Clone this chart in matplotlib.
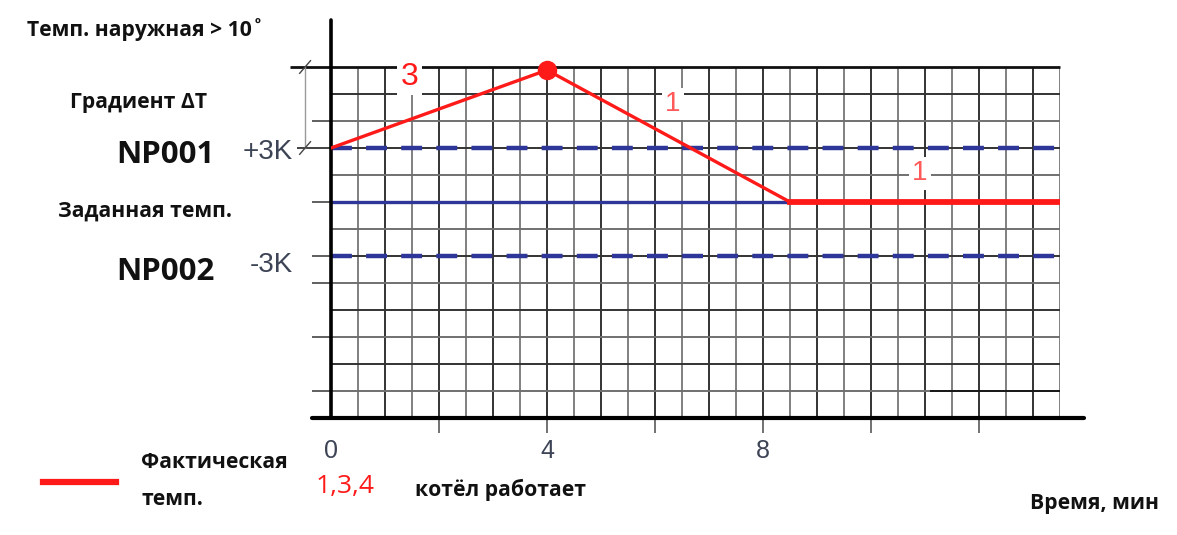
import numpy as np
import matplotlib
matplotlib.use("Agg")
import matplotlib.pyplot as plt
from matplotlib.lines import Line2D

W, H = 1177, 535

# данные (минуты / Кельвины)
actual_t = [0, 4, 8.5, 13.5]
actual_v = [3, 7.33, 0, 0]
peak_t, peak_v = 4, 7.33
setpoint = 0
np001 = 3
np002 = -3
setpoint_end = 8.5
band_end = 13.4
tick_pos = [0, 2, 4, 6, 8, 10, 12]
tick_lbl = ["0", "", "4", "", "8", "", ""]

RED = "#ff1a1a"
RED_LIGHT = "#ff5a5a"
BLUE = "#2f3699"
GREY_TXT = "#3d4455"
SANS = ["Open Sans", "DejaVu Sans"]
ARIAL = ["Liberation Sans", "DejaVu Sans"]


def px(x, y):
    return x / W, 1 - y / H


plt.rcParams['font.family'] = SANS

fig = plt.figure(figsize=(W / 100, H / 100), dpi=100)
ax = fig.add_axes([331 / W, 1 - 418 / H, (1060 - 331) / W, (418 - 67) / H])
ax.set_xlim(0, 13.5)
ax.set_ylim(-12, 7.5)
for s in ax.spines.values():
    s.set_visible(False)

# сетка
xs = np.arange(0, 13.51, 0.5)
ys = np.arange(-12, 7.51, 1.5)
vcol = ["#333333" if i % 2 == 0 else "#808080" for i in range(len(xs))]
hcol = ["#333333" if i % 2 == 0 else "#707070" for i in range(len(ys))]
ax.vlines(xs, -12, 7.5, colors=vcol, lw=1.4, zorder=1)
ax.hlines(ys, 0, 13.5, colors=hcol, lw=1.4, zorder=1)
# продолжение линий влево от оси
ax.hlines([-10.5, -7.5, -4.5, -3, 0, 4.5], -0.35, 0, colors="#444444", lw=1.2, clip_on=False)
ax.hlines([7.5], -0.76, 13.5, colors="#111111", lw=2.0, clip_on=False, zorder=2)
ax.hlines([3], -0.63, 0, colors="#222222", lw=1.2, clip_on=False)
ax.hlines([-10.5], 11.1, 13.5, colors="#111111", lw=1.3, zorder=2)
# размерная линия градиента
ax.plot([-0.48, -0.48], [3, 7.5], color="#999999", lw=1.0, clip_on=False)
for yy in (3, 7.5):
    ax.plot([-0.58, -0.38], [yy - 0.35, yy + 0.35], color="#444444", lw=1.0, clip_on=False)

# оси
ax.plot([0, 0], [-12, 10.1], color="black", lw=2.6, clip_on=False, solid_capstyle="round", zorder=4)
ax.plot([-0.35, 13.95], [-12, -12], color="black", lw=3.0, clip_on=False, solid_capstyle="round", zorder=4)

ax.set_xticks(tick_pos, tick_lbl)
ax.set_yticks([])
ax.tick_params(axis="x", length=11, width=1.3, color="#666666", pad=4,
               labelsize=18, labelcolor=GREY_TXT)
for t in ax.get_xticklabels():
    t.set_family(ARIAL)
ax.xaxis.get_major_ticks()[0].tick1line.set_visible(False)

# заданная температура и границы
ax.plot([0, setpoint_end], [setpoint, setpoint], color=BLUE, lw=2.4, zorder=3)
for lvl in (np001, np002):
    ax.plot([0, band_end], [lvl, lvl], color=BLUE, lw=3.2, ls=(0, (4.7, 3.2)), zorder=3)

# фактическая температура
ax.plot(actual_t[:3], actual_v[:3], color=RED, lw=2.4, zorder=5, solid_capstyle="round")
ax.plot(actual_t[2:], actual_v[2:], color=RED, lw=4.2, zorder=5)
ax.plot([peak_t], [peak_v], "o", color=RED, ms=13, zorder=6, clip_on=False)

bb = dict(facecolor="white", edgecolor="none", pad=2.5)
ax.text(1.46, 6.95, "3", color=RED, fontsize=23, ha="center", va="center", bbox=bb, zorder=4,
        family=ARIAL)
ax.text(6.33, 5.45, "1", color=RED_LIGHT, fontsize=20, ha="center", va="center", bbox=bb, zorder=4,
        family=ARIAL)
ax.text(10.9, 1.6, "1", color=RED_LIGHT, fontsize=20, ha="center", va="center", bbox=bb, zorder=4,
        family=ARIAL)

# подписи слева
bold = dict(fontweight="bold", color="#111111", va="center", ha="left")
fig.text(*px(27, 30), "Темп. наружная > 10˚", fontsize=15.2, **bold)
fig.text(*px(70, 102), "Градиент ΔТ", fontsize=15.2, **bold)
fig.text(*px(116, 155), "NP001", fontsize=22.5, **bold)
fig.text(*px(58, 211), "Заданная темп.", fontsize=15.2, **bold)
fig.text(*px(116, 272), "NP002", fontsize=22.5, **bold)
fig.text(*px(293, 152), "+3K", fontsize=20, color=GREY_TXT, ha="right", va="center", family=ARIAL)
fig.text(*px(293, 265), "-3K", fontsize=20, color=GREY_TXT, ha="right", va="center", family=ARIAL)

# подписи снизу
fig.text(*px(316, 487), "1,3,4", fontsize=19, color=RED, ha="left", va="center")
fig.text(*px(415, 490), "котёл работает", fontsize=15.2, **bold)
fig.text(*px(1030, 503), "Время, мин", fontsize=15.2, **bold)

fs = 15.2
leg = fig.legend(handles=[Line2D([], [], color=RED, lw=4.5)], labels=["Фактическая\nтемп."],
                 loc="center left", bbox_to_anchor=px(24, 481), frameon=False,
                 handlelength=73 / (fs * 100 / 72), handletextpad=25 / (fs * 100 / 72),
                 prop=dict(family=SANS, weight="bold", size=fs))
for t in leg.get_texts():
    t.set_linespacing(2.0)
    t.set_color("#111111")

fig.savefig("out.png", dpi=100, facecolor="white")
